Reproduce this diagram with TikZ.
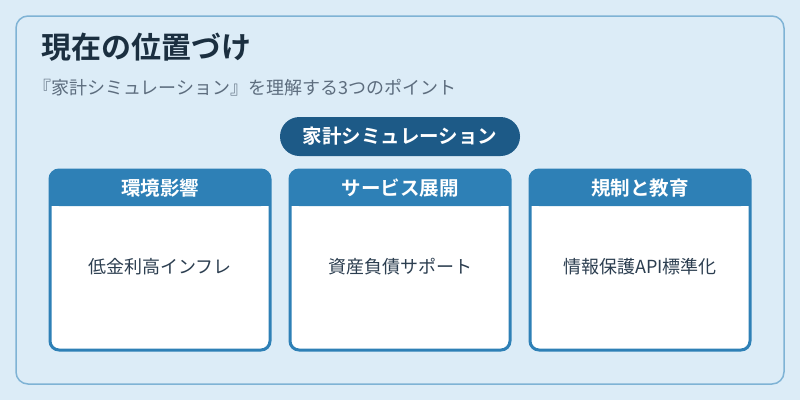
\documentclass[tikz,border=0pt]{standalone}
\usepackage{fontspec}
\setmainfont{Noto Sans CJK JP}
\newfontfamily\jpbold{Noto Sans CJK JP Bold}
\definecolor{bgc}{HTML}{DCECF7}
\definecolor{framec}{HTML}{7FB3D5}
\definecolor{titlec}{HTML}{1B2F40}
\definecolor{subc}{HTML}{5D6D7E}
\definecolor{pillc}{HTML}{1D5A87}
\definecolor{headc}{HTML}{2E80B6}
\definecolor{bodyc}{HTML}{2C3E50}
\tikzset{
  cardframe/.style={draw=headc, line width=3pt, fill=white, rounded corners=9pt},
  cardhead/.style={text=white, font=\jpbold\fontsize{19.5}{22}\selectfont, anchor=center},
  cardbody/.style={text=bodyc, font=\fontsize{18}{20}\selectfont, anchor=center},
}
\begin{document}
\begin{tikzpicture}[x=1pt,y=-1pt]
\useasboundingbox (0,0) rectangle (800,400);
\fill[bgc] (0,0) rectangle (800,400);
\draw[framec, line width=1.5pt, rounded corners=12pt] (16,16) rectangle (784,384);
\node[anchor=west, text=titlec, font=\jpbold\fontsize{30}{34}\selectfont, inner sep=0] (title) at (41,47) {現在の位置づけ};
\node[anchor=west, text=subc, font=\fontsize{18}{20}\selectfont, inner sep=0] (sub) at (33,88) {『家計シミュレーション』を理解する3つのポイント};
\node[fill=pillc, rounded corners=19.5pt, minimum width=240pt, minimum height=39pt, text=white, font=\jpbold\fontsize{19.5}{22}\selectfont, inner sep=0] (pill) at (400,136.5) {家計シミュレーション};
\foreach \i/\x/\h/\b in {1/160/環境影響/低金利高インフレ, 2/400/サービス展開/資産負債サポート, 3/640/規制と教育/情報保護API標準化}{
  \draw[cardframe] (\x-110,170) rectangle (\x+110,350);
  \fill[headc, rounded corners=9pt] (\x-110,170) rectangle (\x+110,206);
  \fill[headc] (\x-110,190) rectangle (\x+110,206);
  \node[cardhead] (head\i) at (\x,188) {\h};
  \node[cardbody] (body\i) at (\x,267) {\b};
}
\end{tikzpicture}
\end{document}
